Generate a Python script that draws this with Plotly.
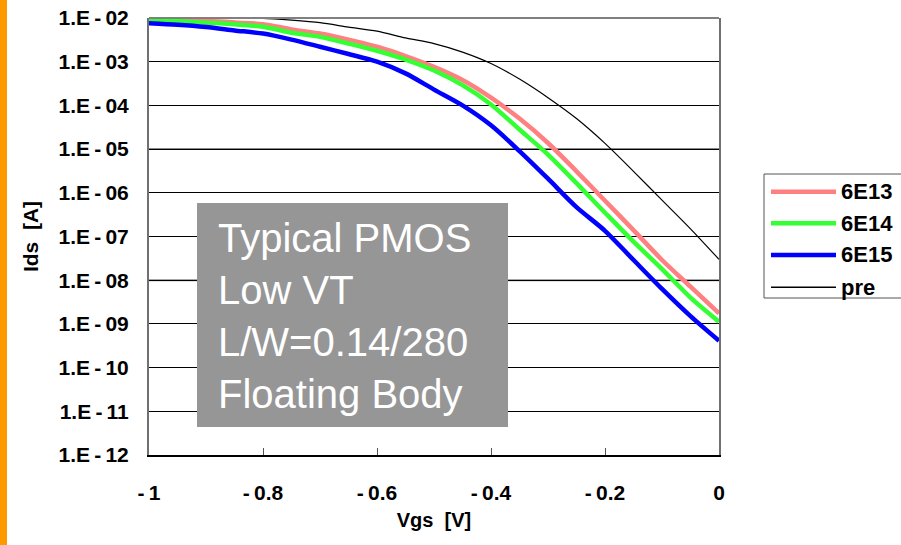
import plotly.graph_objects as go

# ---------------- data ----------------
vgs = [-1.0, -0.95, -0.9, -0.85, -0.8, -0.75, -0.7, -0.65, -0.6, -0.55, -0.5,
       -0.45, -0.4, -0.35, -0.3, -0.25, -0.2, -0.15, -0.1, -0.05, 0.0]

ids_6e13 = [9.5e-3, 9.1e-3, 8.7e-3, 7.9e-3, 7.2e-3, 5.5e-3, 4.4e-3, 3.2e-3, 2.2e-3,
            1.35e-3, 7.6e-4, 3.8e-4, 1.5e-4, 5.0e-5, 1.38e-5, 3.1e-6, 6.6e-7,
            1.4e-7, 2.9e-8, 7.1e-9, 1.74e-9]
ids_6e14 = [9.1e-3, 8.4e-3, 7.8e-3, 7.2e-3, 6.3e-3, 4.6e-3, 3.7e-3, 2.6e-3, 1.78e-3,
            1.12e-3, 6.3e-4, 2.9e-4, 1.05e-4, 2.8e-5, 7.5e-6, 1.66e-6, 3.5e-7,
            7.6e-8, 1.8e-8, 4.0e-9, 1.12e-9]
ids_6e15 = [7.6e-3, 7.0e-3, 6.2e-3, 5.2e-3, 4.4e-3, 3.2e-3, 2.2e-3, 1.5e-3, 1.0e-3,
            5.4e-4, 2.3e-4, 1.0e-4, 3.5e-5, 9.0e-6, 2.1e-6, 4.7e-7, 1.35e-7,
            2.9e-8, 6.3e-9, 1.5e-9, 4.1e-10]
ids_pre = [9.9e-3, 9.9e-3, 9.9e-3, 9.8e-3, 9.8e-3, 8.9e-3, 7.8e-3, 6.2e-3, 5.0e-3,
           3.5e-3, 2.6e-3, 1.66e-3, 9.1e-4, 4.0e-4, 1.5e-4, 5.0e-5, 1.35e-5,
           3.1e-6, 6.8e-7, 1.5e-7, 3.0e-8]

series_names = ["6E13", "6E14", "6E15", "pre"]
series_values = [ids_6e13, ids_6e14, ids_6e15, ids_pre]

x_tickvals = [-1.0, -0.8, -0.6, -0.4, -0.2, 0.0]
x_ticktext = ["-\u20091", "-\u20090.8", "-\u20090.6", "-\u20090.4", "-\u20090.2", "0"]
y_tickvals = [1e-2, 1e-3, 1e-4, 1e-5, 1e-6, 1e-7, 1e-8, 1e-9, 1e-10, 1e-11, 1e-12]
y_ticktext = ["1.E\u2009-\u200902", "1.E\u2009-\u200903", "1.E\u2009-\u200904",
              "1.E\u2009-\u200905", "1.E\u2009-\u200906", "1.E\u2009-\u200907",
              "1.E\u2009-\u200908", "1.E\u2009-\u200909", "1.E\u2009-\u200910",
              "1.E\u2009-\u200911", "1.E\u2009-\u200912"]

box_text = ["Typical PMOS", "Low VT", "L/W=0.14/280", "Floating Body"]

# ---------------- styles ----------------
colors = ["#FF8080", "#33FF33", "#0000FF", "#000000"]
widths = [4.5, 4.5, 4.5, 1.2]
FONT = "Liberation Sans, Arial, sans-serif"

W, H = 901, 545
L, R, T, B = 149, 182, 18, 90
PW, PH = W - L - R, H - T - B


def px(xpix):
    return (xpix - L) / PW


def py(ypix):
    return (H - B - ypix) / PH


fig = go.Figure()
for name, vals, c, w in zip(series_names, series_values, colors, widths):
    fig.add_trace(go.Scatter(x=vgs, y=vals, mode="lines", name=name,
                             line=dict(color=c, width=w, shape="spline", smoothing=0.8),
                             showlegend=False))

shapes = []
# orange bar at left edge
shapes.append(dict(type="rect", xref="paper", yref="paper",
                   x0=px(0), x1=px(7), y0=py(H), y1=py(0),
                   fillcolor="#FF9900", line=dict(width=0), layer="above"))
# top border of plot
shapes.append(dict(type="line", xref="paper", yref="paper", x0=0, x1=1, y0=1, y1=1,
                   line=dict(color="#808080", width=2), layer="above"))
# two grey grid lines seen in the reference
for gv in [1e-5, 1e-8]:
    shapes.append(dict(type="line", xref="paper", yref="y", x0=0, x1=1, y0=gv, y1=gv,
                       line=dict(color="#8a8a8a", width=2), layer="between"))
# text box
shapes.append(dict(type="rect", xref="paper", yref="paper",
                   x0=px(197), x1=px(508), y0=py(427), y1=py(203),
                   fillcolor="#969696", line=dict(width=0), layer="above"))
# legend box
shapes.append(dict(type="rect", xref="paper", yref="paper",
                   x0=px(764), x1=px(910), y0=py(298), y1=py(174),
                   fillcolor="white", line=dict(color="#555555", width=1), layer="above"))

annotations = []
leg_y = [191.7, 223.3, 255.0, 287.3]
for name, c, w, ly in zip(series_names, colors, widths, leg_y):
    shapes.append(dict(type="line", xref="paper", yref="paper",
                       x0=px(771), x1=px(836), y0=py(ly), y1=py(ly),
                       line=dict(color=c, width=w if w > 2 else 1.5),
                       layer="above"))
    annotations.append(dict(xref="paper", yref="paper", x=px(839), y=py(ly),
                            text="<b>%s</b>" % name, showarrow=False,
                            xanchor="left", yanchor="middle",
                            font=dict(family=FONT, size=22, color="black")))

annotations.append(dict(xref="paper", yref="paper", x=px(216), y=py(316),
                        text="<br>".join(box_text), showarrow=False, align="left",
                        xanchor="left", yanchor="middle",
                        font=dict(family=FONT, size=40, color="white")))

fig.update_layout(
    width=W, height=H,
    margin=dict(l=L, r=R, t=T, b=B, autoexpand=False),
    paper_bgcolor="white", plot_bgcolor="white",
    font=dict(family=FONT, color="black"),
    shapes=shapes, annotations=annotations,
    showlegend=False,
)
fig.update_xaxes(
    range=[-1, 0], tickvals=x_tickvals, ticktext=x_ticktext,
    tickfont=dict(family=FONT, size=21, color="black", weight="bold"),
    ticks="inside", ticklen=7, tickcolor="#555555", tickwidth=1,
    ticklabelstandoff=18,
    showline=True, linecolor="black", linewidth=2, mirror=False,
    showgrid=False, zeroline=False,
    title=dict(text="<b>Vgs  [V]</b>", font=dict(family=FONT, size=20), standoff=10),
)
fig.update_yaxes(
    type="log", range=[-12, -2], tickvals=y_tickvals, ticktext=y_ticktext,
    tickfont=dict(family=FONT, size=21, color="black", weight="bold"),
    ticks="", ticklabelstandoff=14,
    showline=True, linecolor="#707070", linewidth=2, mirror=True,
    showgrid=True, gridcolor="black", gridwidth=1, zeroline=False,
    title=dict(text="<b>Ids  [A]</b>", font=dict(family=FONT, size=21), standoff=14),
)

fig.write_html("out.html", config={"displayModeBar": False},
               post_script="document.body.style.margin='0';document.body.style.padding='0';")
